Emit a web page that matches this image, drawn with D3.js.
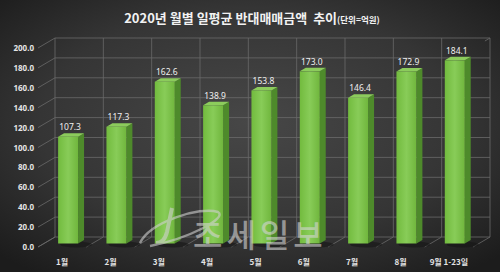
<!DOCTYPE html>
<html>
<head>
<meta charset="utf-8">
<script src="https://cdn.jsdelivr.net/npm/d3@7"></script>
<style>
  html, body { margin: 0; padding: 0; background: #2a2a2a; }
  svg { display: block; }
</style>
</head>
<body>
<script>
// data
const months = ["1월", "2월", "3월", "4월", "5월", "6월", "7월", "8월", "9월 1-23일"];
const amounts = [107.3, 117.3, 162.6, 138.9, 153.8, 173.0, 146.4, 172.9, 184.1];
const yTicks = [0, 20, 40, 60, 80, 100, 120, 140, 160, 180, 200];

const W = 500, H = 272;
const svg = d3.select("body").append("svg").attr("width", W).attr("height", H);
const defs = svg.append("defs");

// background
const bg = defs.append("radialGradient").attr("id", "bg")
  .attr("cx", "50%").attr("cy", "45%").attr("r", "70%");
bg.append("stop").attr("offset", "0%").attr("stop-color", "#474747");
bg.append("stop").attr("offset", "60%").attr("stop-color", "#353535");
bg.append("stop").attr("offset", "100%").attr("stop-color", "#1c1c1c");
svg.append("rect").attr("width", W).attr("height", H).attr("fill", "url(#bg)");

const front = defs.append("linearGradient").attr("id", "front")
  .attr("x1", 0).attr("x2", 1).attr("y1", 0).attr("y2", 0);
front.append("stop").attr("offset", "0%").attr("stop-color", "#72bb3e");
front.append("stop").attr("offset", "50%").attr("stop-color", "#88cc58");
front.append("stop").attr("offset", "100%").attr("stop-color", "#70b63d");

// 3d frame: back wall, and offset toward the viewer
const x = d3.scaleBand().domain(months).range([55, 490]);
const y = d3.scaleLinear().domain([0, 200]).range([237, 38]);
const DX = -17, DY = 10;       // full depth offset
const dFront = 0.65, dBack = 0.3;
const barW = 20;

const grid = svg.append("g").attr("stroke", "#6a6a6a").attr("stroke-width", 0.8).attr("fill", "none");

// horizontal lines on back wall + left wall diagonals
yTicks.forEach(t => {
  grid.append("line").attr("x1", 55).attr("x2", 490).attr("y1", y(t)).attr("y2", y(t));
  grid.append("line").attr("x1", 55 + DX).attr("y1", y(t) + DY).attr("x2", 55).attr("y2", y(t));
});
// vertical lines on back wall + floor diagonals
const edges = months.map(m => x(m)).concat([490]);
edges.forEach(e => {
  grid.append("line").attr("x1", e).attr("x2", e).attr("y1", y(200)).attr("y2", y(0));
  grid.append("line").attr("x1", e).attr("y1", y(0)).attr("x2", e + DX).attr("y2", y(0) + DY);
});
grid.append("line").attr("x1", 490).attr("y1", y(200)).attr("x2", 490 + DX * 0.3).attr("y2", y(200) + DY * 0.3);

// y-axis labels
svg.append("g").selectAll("text").data(yTicks).join("text")
  .attr("x", 34).attr("y", d => y(d) + DY + 3)
  .attr("text-anchor", "end")
  .attr("font-family", "'Noto Sans', sans-serif").attr("font-weight", "bold")
  .attr("font-size", 8).attr("fill", "#e4e4e4")
  .text(d => d.toFixed(1));

// bars
const bars = svg.append("g");
months.forEach((m, i) => {
  const v = amounts[i];
  const cx = x(m) + x.bandwidth() / 2;
  const fx = cx - barW / 2 + DX * dFront;
  const fyTop = y(v) + DY * dFront;
  const fyBot = y(0) + DY * dFront;
  const sx = DX * (dBack - dFront), sy = DY * (dBack - dFront); // toward back
  // shadow on floor
  bars.append("ellipse").attr("cx", fx + barW / 2 + 8).attr("cy", fyBot + 1)
    .attr("rx", 16).attr("ry", 3).attr("fill", "#151515").attr("opacity", 0.6);
  // side
  bars.append("polygon")
    .attr("points", [[fx + barW, fyTop], [fx + barW + sx, fyTop + sy], [fx + barW + sx, fyBot + sy], [fx + barW, fyBot]].join(" "))
    .attr("fill", "#4e8a2b");
  // top
  bars.append("polygon")
    .attr("points", [[fx, fyTop], [fx + barW, fyTop], [fx + barW + sx, fyTop + sy], [fx + sx, fyTop + sy]].join(" "))
    .attr("fill", "#8ccc5c");
  // front
  bars.append("rect").attr("x", fx).attr("y", fyTop).attr("width", barW).attr("height", fyBot - fyTop)
    .attr("fill", "url(#front)");
  // value
  bars.append("text").attr("x", fx + barW / 2 + 2).attr("y", fyTop + sy - 3)
    .attr("text-anchor", "middle")
    .attr("font-family", "'Noto Sans', sans-serif").attr("font-size", 8.5)
    .attr("fill", "#efefef")
    .text(v.toFixed(1));
  // category
  bars.append("text").attr("x", cx + DX).attr("y", 265)
    .attr("text-anchor", "middle")
    .attr("font-family", "'Noto Sans CJK KR', sans-serif").attr("font-size", 8).attr("font-weight", "bold")
    .attr("fill", "#e4e4e4")
    .text(m);
});

// watermark, drawn over the bars
const wm = svg.append("g").attr("opacity", 0.6);
wm.append("path")
  .attr("d", "M140,243 C150,222 200,206 218,212 C228,218 190,238 150,246")
  .attr("fill", "none").attr("stroke", "#d0d0d0").attr("stroke-width", 2.5);
wm.append("path")
  .attr("d", "M172,208 L167,232 C165,240 161,243 156,243")
  .attr("fill", "none").attr("stroke", "#d0d0d0").attr("stroke-width", 4);
wm.append("text").attr("x", 193).attr("y", 247)
  .attr("font-family", "'Noto Sans CJK KR', sans-serif").attr("font-size", 32)
  .attr("font-weight", "500").attr("fill", "#d4d4d4").attr("letter-spacing", 4)
  .text("조세일보");

// title
const title = svg.append("text").attr("x", 252).attr("y", 23).attr("text-anchor", "middle")
  .attr("font-family", "'Noto Sans CJK KR', sans-serif").attr("font-weight", "bold")
  .attr("fill", "#f2f2f2").style("white-space", "pre");
title.append("tspan").attr("font-size", 13).text("2020년 월별 일평균 반대매매금액  추이");
title.append("tspan").attr("font-size", 8.5).text("(단위=억원)");
</script>
</body>
</html>
